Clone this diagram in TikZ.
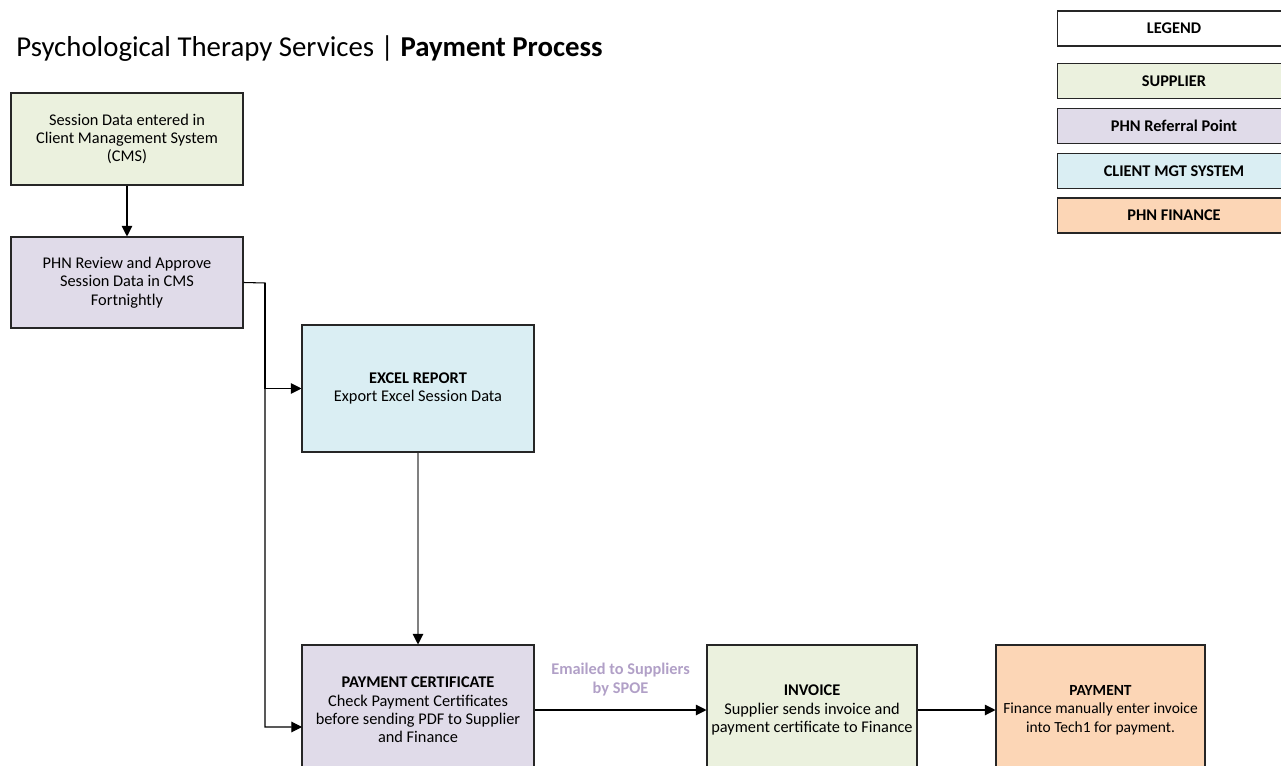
\documentclass[tikz,border=0pt]{standalone}
\usepackage{fontspec}
\setmainfont{Carlito}
\usepackage{xcolor}
\usepackage{tikz}
\usetikzlibrary{arrows.meta}
\definecolor{supplier}{RGB}{235,241,222}
\definecolor{referral}{RGB}{224,219,233}
\definecolor{cmsblue}{RGB}{218,238,243}
\definecolor{finance}{RGB}{252,214,182}
\definecolor{emaillabel}{RGB}{177,160,199}
\begin{document}
\begin{tikzpicture}[x=0.02cm,y=-0.02cm,
    box/.style={draw=black!85,line width=0.6pt,align=center,inner sep=2pt,
      font=\fontsize{9.3}{10.4}\selectfont},
    legendbox/.style={box,minimum width=233*0.02cm,minimum height=35*0.02cm,
      font=\fontsize{9.3}{10.4}\selectfont\bfseries},
    flow/.style={line width=0.6pt,-{Triangle[length=6pt,width=6pt]}}]
    \useasboundingbox (0,0) rectangle (1281,766);
    \clip (0,0) rectangle (1281,766);
    \node[anchor=base west,inner sep=0pt,font=\fontsize{16.4}{19}\selectfont] (title) at (16,57)
      {Psychological Therapy Services | \textbf{Payment Process}};
    \node[legendbox,fill=white] (leg) at (1174,28.5) {LEGEND};
    \node[legendbox,fill=supplier] (legsup) at (1174,81) {SUPPLIER};
    \node[legendbox,fill=referral] (legref) at (1174,126) {PHN Referral Point};
    \node[legendbox,fill=cmsblue] (legcms) at (1174,171) {CLIENT MGT SYSTEM};
    \node[legendbox,fill=finance] (legfin) at (1174,215.5) {PHN FINANCE};
    \node[box,fill=supplier,minimum width=232*0.02cm,minimum height=92*0.02cm]
      (entry) at (127,139)
      {Session Data entered in\\Client Management System\\(CMS)};
    \node[box,fill=referral,minimum width=232*0.02cm,minimum height=91*0.02cm]
      (review) at (127,282.5)
      {PHN Review and Approve\\Session Data in CMS\\Fortnightly};
    \node[box,fill=cmsblue,minimum width=232*0.02cm,minimum height=127*0.02cm]
      (excel) at (418,388.5)
      {\textbf{EXCEL REPORT}\\Export Excel Session Data};
    \node[box,fill=referral,minimum width=232*0.02cm,minimum height=130*0.02cm]
      (cert) at (418,710)
      {\textbf{PAYMENT CERTIFICATE}\\Check Payment Certificates\\before sending PDF to Supplier\\and Finance};
    \node[box,fill=supplier,minimum width=210*0.02cm,minimum height=130*0.02cm]
      (invoice) at (812,710)
      {\textbf{INVOICE}\\Supplier sends invoice and\\payment certificate to Finance};
    \node[box,fill=finance,minimum width=209*0.02cm,minimum height=130*0.02cm,
      inner sep=1pt,font=\fontsize{8.8}{10.4}\selectfont]
      (payment) at (1100.5,710)
      {\textbf{PAYMENT}\\Finance manually enter invoice\\into Tech1 for payment.};
    \coordinate (bus) at (265,283);
    \coordinate (certin) at (302,727);
    \draw[flow] (entry.south) -- (review.north);
    \draw[flow] (review.east) -- (bus) |- (certin);
    \draw[flow] (bus) |- (excel.west);
    \draw[flow,draw=black!50,-{Triangle[length=6pt,width=6pt,black]}]
      (excel.south) -- (cert.north);
    \draw[flow] (cert.east) -- node[above=4.5pt,align=center,text=emaillabel,
      font=\fontsize{9.3}{10.4}\selectfont\bfseries] (email)
      {Emailed to Suppliers\\by SPOE} (invoice.west);
    \draw[flow] (invoice.east) -- (payment.west);
\end{tikzpicture}
\end{document}
